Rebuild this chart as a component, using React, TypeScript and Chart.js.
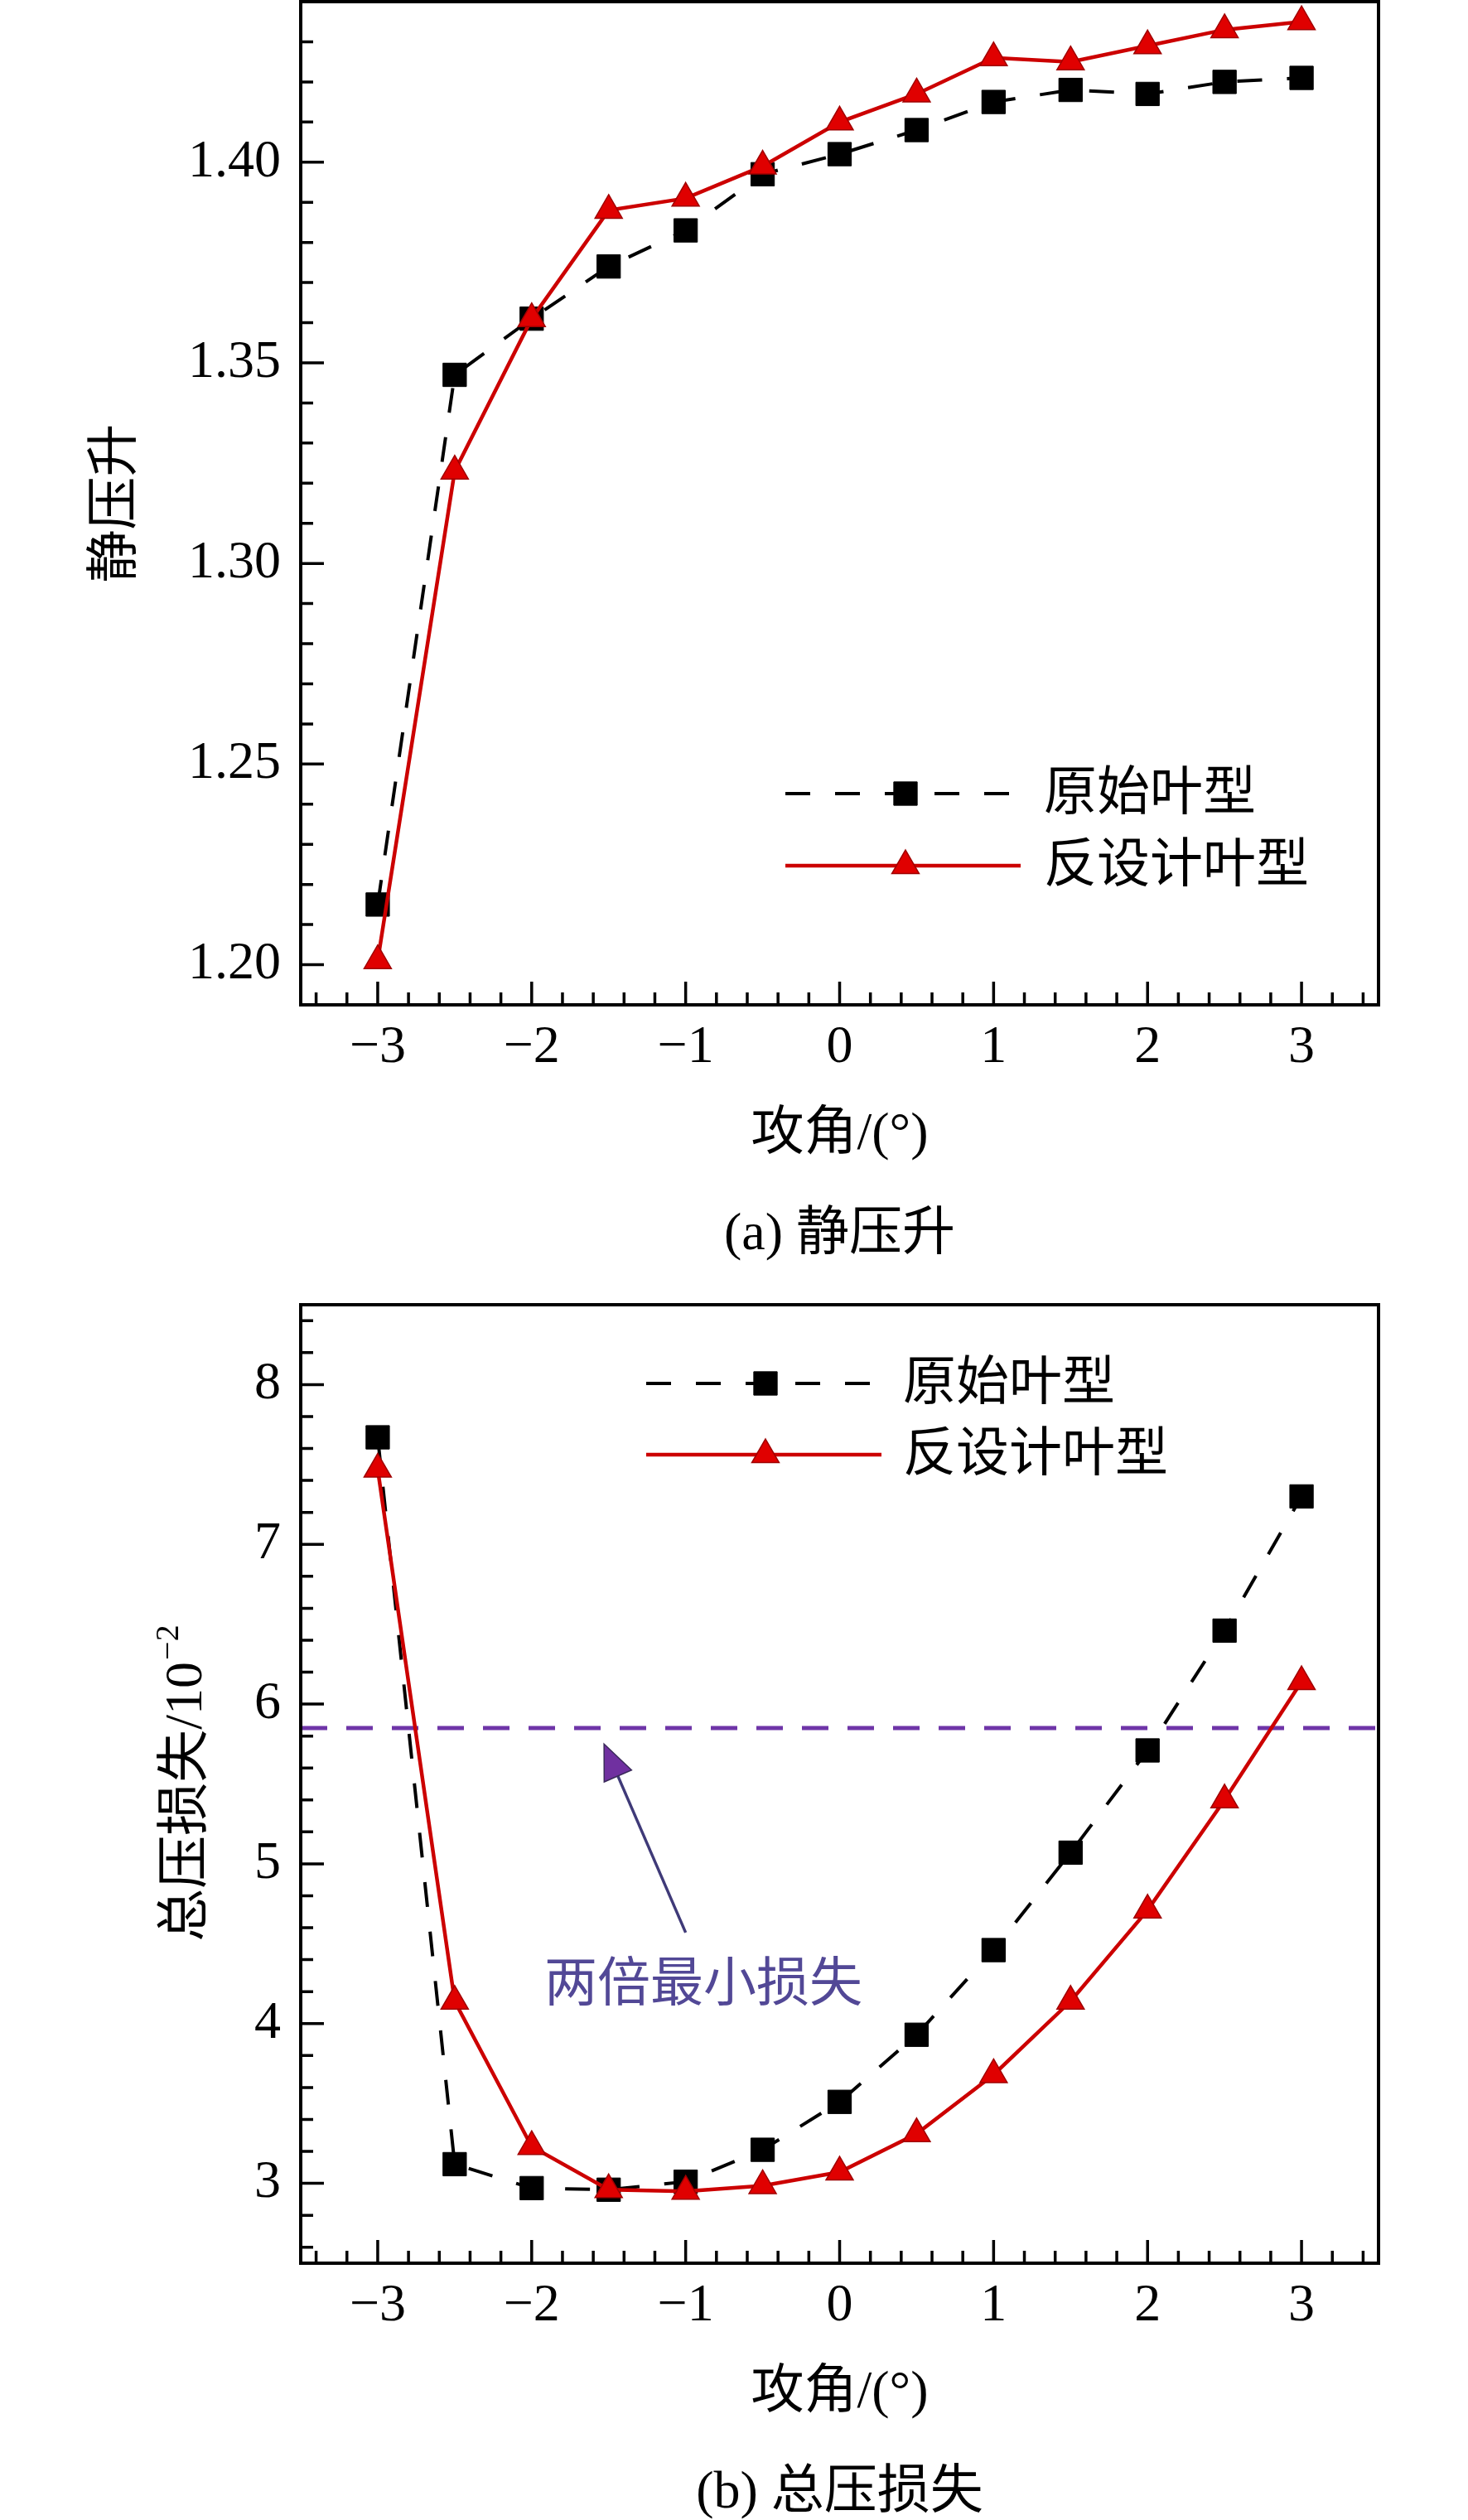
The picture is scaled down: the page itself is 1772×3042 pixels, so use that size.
import React, { useEffect, useRef } from 'react';
import { Chart, registerables } from 'chart.js';

Chart.register(...registerables);

// angle of attack, degrees
const angles = [-3, -2.5, -2, -1.5, -1, -0.5, 0, 0.5, 1, 1.5, 2, 2.5, 3];

// (a) static pressure rise
const staticRiseOriginal = [1.215, 1.347, 1.361, 1.374, 1.383, 1.397, 1.402, 1.408, 1.415, 1.418, 1.417, 1.420, 1.421];
const staticRiseInverse = [1.201, 1.323, 1.361, 1.388, 1.391, 1.399, 1.410, 1.417, 1.426, 1.425, 1.429, 1.433, 1.435];

// (b) total pressure loss, x10^-2
const lossOriginal = [7.67, 3.12, 2.97, 2.96, 3.01, 3.21, 3.51, 3.93, 4.46, 5.07, 5.71, 6.46, 7.30];
const lossInverse = [7.47, 4.14, 3.23, 2.96, 2.95, 2.985, 3.07, 3.31, 3.68, 4.14, 4.71, 5.40, 6.14];

const angleTicks = [-3, -2, -1, 0, 1, 2, 3];
const staticRiseTicks = [1.2, 1.25, 1.3, 1.35, 1.4];
const lossTicks = [3, 4, 5, 6, 7, 8];

const seriesNames = ['原始叶型', '反设计叶型'];

// reference line and its note
const twiceMinLoss = 5.85;
const arrowTail = { x: -1.0, y: 4.57 };
const arrowTip = { x: -1.53, y: 5.75 };
const noteAt = { x: -0.885, y: 4.23 };
const noteText = '两倍最小损失';

const FONT = "'Liberation Serif', 'Times New Roman', 'Noto Sans CJK SC', serif";
const FS = 64;
const W = 1772;
const X_AXIS_H = 140;

type PanelSpec = {
    height: number;
    areaLeft: number;
    areaRight: number;
    areaTop: number;
    areaBottom: number;
    yMin: number;
    yMax: number;
    yTicks: number[];
    yMinor: number;
    yFormat: (v: number) => string;
    original: number[];
    inverse: number[];
    legend: { x0: number; x1: number; marker: number; rows: number[]; textX: number };
    yTitleX: number;
    yTitle: string;
    ySup?: string;
    caption: string;
    withNote: boolean;
};

const minus = (v: number) => (v < 0 ? '\u2212' + Math.abs(v) : String(v));

const topSpec: PanelSpec = {
    height: 1560,
    areaLeft: 363,
    areaRight: 1664,
    areaTop: 2,
    areaBottom: 1213,
    yMin: 1.19,
    yMax: 1.44,
    yTicks: staticRiseTicks,
    yMinor: 0.01,
    yFormat: (v) => v.toFixed(2),
    original: staticRiseOriginal,
    inverse: staticRiseInverse,
    legend: { x0: 948, x1: 1232, marker: 1093, rows: [958, 1045], textX: 1260 },
    yTitleX: 141,
    yTitle: '静压升',
    caption: '(a) 静压升',
    withNote: false,
};

const bottomSpec: PanelSpec = {
    height: 1482,
    areaLeft: 363,
    areaRight: 1664,
    areaTop: 15,
    areaBottom: 1172,
    yMin: 2.5,
    yMax: 8.5,
    yTicks: lossTicks,
    yMinor: 0.2,
    yFormat: (v) => String(v),
    original: lossOriginal,
    inverse: lossInverse,
    legend: { x0: 780, x1: 1064, marker: 924, rows: [110, 196], textX: 1090 },
    yTitleX: 226,
    yTitle: '总压损失/10',
    ySup: '\u22122',
    caption: '(b) 总压损失',
    withNote: true,
};

const drawMarker = (ctx: CanvasRenderingContext2D, style: string, x: number, y: number, r: number) => {
    ctx.beginPath();
    if (style === 'rect') {
        const s = Math.SQRT1_2 * r;
        ctx.rect(x - s, y - s, 2 * s, 2 * s);
    } else {
        let a = 0;
        for (let i = 0; i < 3; i++) {
            const px = x + Math.sin(a) * r;
            const py = y - Math.cos(a) * r;
            if (i === 0) ctx.moveTo(px, py);
            else ctx.lineTo(px, py);
            a += (2 * Math.PI) / 3;
        }
        ctx.closePath();
    }
    ctx.fill();
    ctx.stroke();
};

const framePlugin = (spec: PanelSpec) => ({
    id: 'frame',
    afterDraw(chart: any) {
        const { ctx, chartArea: a, scales } = chart;
        const xs = scales.x;
        const ys = scales.y;
        ctx.save();

        // frame
        ctx.strokeStyle = '#000';
        ctx.lineWidth = 4;
        ctx.strokeRect(a.left, a.top, a.right - a.left, a.bottom - a.top);

        // inward ticks, major and minor
        ctx.lineWidth = 3.5;
        ctx.beginPath();
        for (let k = Math.ceil(-3.5 / 0.2 + 1e-3); k <= Math.floor(3.5 / 0.2 - 1e-3); k++) {
            const v = k * 0.2;
            const px = xs.getPixelForValue(v);
            const len = k % 5 === 0 ? 28 : 15;
            ctx.moveTo(px, a.bottom);
            ctx.lineTo(px, a.bottom - len);
        }
        const k0 = Math.ceil(spec.yMin / spec.yMinor + 1e-3);
        const k1 = Math.floor(spec.yMax / spec.yMinor - 1e-3);
        for (let k = k0; k <= k1; k++) {
            const v = k * spec.yMinor;
            const major = spec.yTicks.some((t) => Math.abs(t - v) < 1e-6);
            const py = ys.getPixelForValue(v);
            ctx.moveTo(a.left, py);
            ctx.lineTo(a.left + (major ? 28 : 15), py);
        }
        ctx.stroke();

        // legend
        const ds = chart.data.datasets;
        const lg = spec.legend;
        [0, 1].forEach((i) => {
            const d = ds[i];
            const y = lg.rows[i];
            ctx.save();
            ctx.strokeStyle = d.borderColor;
            ctx.lineWidth = d.borderWidth;
            ctx.setLineDash(d.borderDash || []);
            ctx.beginPath();
            ctx.moveTo(lg.x0, y);
            ctx.lineTo(lg.x1, y);
            ctx.stroke();
            ctx.restore();
            ctx.fillStyle = d.pointBackgroundColor;
            ctx.strokeStyle = d.pointBorderColor;
            ctx.lineWidth = d.pointBorderWidth;
            drawMarker(ctx, d.pointStyle, lg.marker, y, d.pointRadius);
            ctx.fillStyle = '#000';
            ctx.font = `${FS}px ${FONT}`;
            ctx.textAlign = 'left';
            ctx.textBaseline = 'middle';
            ctx.fillText(seriesNames[i], lg.textX, y + 2);
        });

        // arrow and note
        if (spec.withNote) {
            const tx = xs.getPixelForValue(arrowTail.x);
            const ty = ys.getPixelForValue(arrowTail.y);
            const hx = xs.getPixelForValue(arrowTip.x);
            const hy = ys.getPixelForValue(arrowTip.y);
            const ang = Math.atan2(hy - ty, hx - tx);
            const headLen = 42;
            const half = 18;
            const bx = hx - headLen * Math.cos(ang);
            const by = hy - headLen * Math.sin(ang);
            ctx.strokeStyle = '#3f3a78';
            ctx.lineWidth = 3.5;
            ctx.beginPath();
            ctx.moveTo(tx, ty);
            ctx.lineTo(bx, by);
            ctx.stroke();
            ctx.beginPath();
            ctx.moveTo(hx, hy);
            ctx.lineTo(bx - half * Math.sin(ang), by + half * Math.cos(ang));
            ctx.lineTo(bx + half * Math.sin(ang), by - half * Math.cos(ang));
            ctx.closePath();
            ctx.fillStyle = '#7030a0';
            ctx.fill();
            ctx.strokeStyle = '#3a2a5a';
            ctx.lineWidth = 1.5;
            ctx.stroke();

            ctx.fillStyle = '#524896';
            ctx.font = `${FS}px ${FONT}`;
            ctx.textAlign = 'center';
            ctx.textBaseline = 'middle';
            ctx.fillText(noteText, xs.getPixelForValue(noteAt.x), ys.getPixelForValue(noteAt.y));
        }

        // axis titles and caption
        const cx = (a.left + a.right) / 2;
        ctx.fillStyle = '#000';
        ctx.font = `${FS}px ${FONT}`;
        ctx.textAlign = 'center';
        ctx.textBaseline = 'middle';
        ctx.fillText('攻角/(°)', cx, a.bottom + 157);
        ctx.fillText(spec.caption, cx, a.bottom + 278);

        ctx.save();
        ctx.translate(spec.yTitleX, (a.top + a.bottom) / 2);
        ctx.rotate(-Math.PI / 2);
        ctx.textBaseline = 'middle';
        ctx.textAlign = 'left';
        const mainW = ctx.measureText(spec.yTitle).width;
        let supW = 0;
        if (spec.ySup) {
            ctx.font = `40px ${FONT}`;
            supW = ctx.measureText(spec.ySup).width;
        }
        const x0 = -(mainW + supW) / 2;
        ctx.font = `${FS}px ${FONT}`;
        ctx.fillText(spec.yTitle, x0, 0);
        if (spec.ySup) {
            ctx.font = `40px ${FONT}`;
            ctx.fillText(spec.ySup, x0 + mainW + 2, -22);
        }
        ctx.restore();

        ctx.restore();
    },
});

const makeConfig = (spec: PanelSpec): any => {
    const font = { family: FONT, size: FS };
    return {
        type: 'line',
        data: {
            datasets: [
                {
                    label: seriesNames[0],
                    data: angles.map((x, i) => ({ x, y: spec.original[i] })),
                    borderColor: '#000',
                    borderWidth: 4,
                    borderDash: [30, 30],
                    pointStyle: 'rect',
                    pointRadius: 20,
                    pointBackgroundColor: '#000',
                    pointBorderColor: '#000',
                    pointBorderWidth: 1,
                    order: 2,
                    clip: false,
                },
                {
                    label: seriesNames[1],
                    data: angles.map((x, i) => ({ x, y: spec.inverse[i] })),
                    borderColor: '#cc0000',
                    borderWidth: 4.5,
                    pointStyle: 'triangle',
                    pointRadius: 19,
                    pointBackgroundColor: '#e00000',
                    pointBorderColor: '#a00000',
                    pointBorderWidth: 1.5,
                    order: 1,
                    clip: false,
                },
                ...(spec.withNote
                    ? [
                          {
                              label: 'twice min',
                              data: [
                                  { x: -3.5, y: twiceMinLoss },
                                  { x: 3.5, y: twiceMinLoss },
                              ],
                              borderColor: '#6f35a8',
                              borderWidth: 5,
                              borderDash: [32, 23],
                              pointRadius: 0,
                              order: 3,
                          },
                      ]
                    : []),
            ],
        },
        options: {
            responsive: false,
            animation: false,
            devicePixelRatio: 1,
            layout: {
                autoPadding: false,
                padding: {
                    left: 0,
                    right: W - spec.areaRight,
                    top: spec.areaTop,
                    bottom: spec.height - spec.areaBottom - X_AXIS_H,
                },
            },
            plugins: { legend: { display: false }, tooltip: { enabled: false } },
            scales: {
                x: {
                    type: 'linear',
                    min: -3.5,
                    max: 3.5,
                    grid: { display: false, drawTicks: false },
                    border: { display: false },
                    ticks: { font, color: '#000', padding: 14, maxRotation: 0, callback: (v: number) => minus(v) },
                    afterBuildTicks: (s: any) => {
                        s.ticks = angleTicks.map((value) => ({ value }));
                    },
                    afterFit: (s: any) => {
                        s.height = X_AXIS_H;
                        s.paddingLeft = 0;
                        s.paddingRight = 0;
                    },
                },
                y: {
                    type: 'linear',
                    min: spec.yMin,
                    max: spec.yMax,
                    grid: { display: false, drawTicks: false },
                    border: { display: false },
                    ticks: { font, color: '#000', padding: 24, callback: (v: number) => spec.yFormat(v) },
                    afterBuildTicks: (s: any) => {
                        s.ticks = spec.yTicks.map((value) => ({ value }));
                    },
                    afterFit: (s: any) => {
                        s.width = spec.areaLeft;
                        s.paddingTop = 0;
                        s.paddingBottom = 0;
                    },
                },
            },
        },
        plugins: [framePlugin(spec)],
    };
};

const ChartPanel: React.FC<{ spec: PanelSpec; top: number }> = ({ spec, top }) => {
    const canvasRef = useRef<HTMLCanvasElement | null>(null);

    useEffect(() => {
        if (!canvasRef.current) return;
        const chart = new Chart(canvasRef.current, makeConfig(spec));
        return () => chart.destroy();
    }, [spec]);

    return (
        <canvas
            ref={canvasRef}
            width={W}
            height={spec.height}
            style={{ position: 'absolute', left: 0, top }}
        />
    );
};

const App: React.FC = () => {
    return (
        <div style={{ position: 'absolute', left: 0, top: 0, width: W, height: 3042, background: '#fff' }}>
            <ChartPanel spec={topSpec} top={0} />
            <ChartPanel spec={bottomSpec} top={1560} />
        </div>
    );
};

export default App;
